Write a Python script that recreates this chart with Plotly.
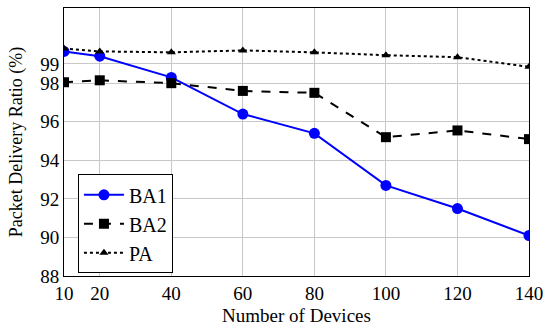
import plotly.graph_objects as go

devices = [10, 20, 40, 60, 80, 100, 120, 140]
ba1 = [99.65, 99.4, 98.3, 96.4, 95.4, 92.7, 91.5, 90.1]
ba2 = [98.05, 98.15, 98.0, 97.6, 97.5, 95.2, 95.55, 95.1]
pa = [99.8, 99.65, 99.6, 99.7, 99.6, 99.45, 99.35, 98.85]

x_ticks = [10, 20, 40, 60, 80, 100, 120, 140]
y_ticks = [88, 90, 92, 94, 96, 98, 99]

font_family = "Liberation Serif, DejaVu Serif, serif"

fig = go.Figure()
fig.add_trace(go.Scatter(x=devices, y=ba1, name="BA1", mode="lines+markers",
                         line=dict(color="#0000ff", width=2),
                         marker=dict(symbol="circle", size=11, color="#0000ff")))
fig.add_trace(go.Scatter(x=devices, y=ba2, name="BA2", mode="lines+markers",
                         line=dict(color="black", width=2, dash="dash"),
                         marker=dict(symbol="square", size=10, color="black")))
fig.add_trace(go.Scatter(x=devices, y=pa, name="PA", mode="lines+markers",
                         line=dict(color="black", width=2, dash="dot"),
                         marker=dict(symbol="triangle-up", size=8, color="black")))

fig.update_layout(
    width=550, height=329,
    margin=dict(l=64, r=18, t=7, b=53),
    paper_bgcolor="white", plot_bgcolor="white",
    font=dict(family=font_family, size=19, color="black"),
    showlegend=True,
    legend=dict(x=0.03, y=0.01, xanchor="left", yanchor="bottom",
                bordercolor="black", borderwidth=1, bgcolor="white",
                font=dict(family=font_family, size=20, color="black"),
                tracegroupgap=0, itemwidth=40),
    xaxis=dict(range=[10, 140], tickvals=x_ticks, ticktext=[str(v) for v in x_ticks],
               showgrid=True, gridcolor="#c8c8c8", gridwidth=1,
               showline=True, linecolor="black", linewidth=1, mirror=True,
               ticks="", zeroline=False,
               tickfont=dict(family=font_family, size=19),
               title=dict(text="Number of Devices", font=dict(family=font_family, size=19), standoff=5)),
    yaxis=dict(range=[88, 101.9], tickvals=y_ticks, ticktext=[str(v) for v in y_ticks],
               showgrid=True, gridcolor="#c8c8c8", gridwidth=1,
               showline=True, linecolor="black", linewidth=1, mirror=True,
               ticks="", zeroline=False,
               tickfont=dict(family=font_family, size=19),
               title=dict(text="Packet Delivery Ratio (%)", font=dict(family=font_family, size=18), standoff=12)),
)

fig.write_html("out.html", config={"displayModeBar": False},
               post_script="document.body.style.margin='0';")
